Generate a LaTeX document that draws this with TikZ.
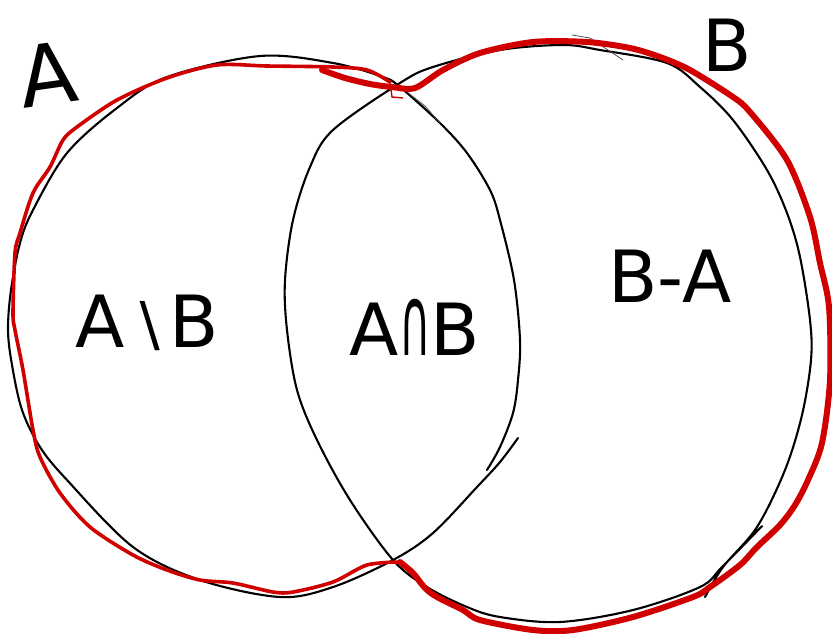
\documentclass[tikz,border=0pt]{standalone}
\usepackage{fontspec}
\usepackage{graphicx}
\setmainfont{DejaVu Sans}
\definecolor{penred}{RGB}{208,0,0}
\tikzset{
  ink/.style={black, line width=2.1pt, line cap=round, line join=round},
  thinink/.style={black!70, line width=0.8pt, line cap=round},
  redthin/.style={penred, line width=3.6pt, line cap=round, line join=round},
  redthick/.style={penred, line width=6pt, line cap=round, line join=round},
  lab/.style={inner sep=0pt, font=\fontsize{72}{80}\selectfont}
}
\begin{document}
\begin{tikzpicture}[x=1pt,y=-1pt]
\useasboundingbox (0,0) rectangle (832,633);
% black circle A
\draw[ink] plot[smooth, tension=0.55] coordinates {(487,470) (500,447) (513,413) (518,380) (520,340) (514,280) (500,220) (490,190) (467,153) (440,123) (400,87) (383,77) (333,63) (260,56) (167,77) (117,108) (67,153) (33,210) (20,243) (11,290) (8,330) (12,365) (22,410) (40,447) (67,480) (133,547) (200,580) (280,597) (333,587) (393,560) (433,533) (477,487) (500,462) (518,438)};
\draw[thinink] (407,92) -- (425,106) -- (440,123);
% black circle B
\draw[ink] plot[smooth, tension=0.55] coordinates {(705,597) (723,567) (757,527) (785,470) (802,415) (811,360) (810,320) (800,257) (787,213) (767,170) (733,120) (700,87) (667,63) (600,50) (563,45) (500,50) (433,67) (400,83) (333,130) (310,167) (293,220) (285,280) (287,330) (297,390) (317,440) (350,500) (393,560) (427,587) (467,607) (500,617) (560,622) (633,610) (700,587) (722,567) (762,526)};
\draw[thinink] (572,35) -- (590,38) -- (623,60);
% red outline of the union
\draw[redthin] plot[smooth, tension=0.5] coordinates {(400,562) (367,565) (333,582) (293,592) (273,592) (233,583) (200,580) (167,570) (133,555) (90,527) (60,493) (40,457) (33,430) (23,370) (15,330) (13,313) (15,253) (20,233) (33,193) (50,167) (63,140) (77,127) (117,100) (167,78) (217,65) (267,66) (333,67) (367,70) (390,82)};
\draw[penred, line width=1.4pt] (390,82) -- (392,97) -- (403,98);
\draw[redthick] plot[smooth, tension=0.5] coordinates {(322,70) (345,78) (370,84) (392,87) (415,88) (443,70) (480,53) (533,42) (587,42) (630,48) (660,57) (690,70) (733,97) (750,112) (787,160) (810,217) (820,263) (829,307) (830,380) (822,443) (808,480) (795,505) (780,525) (757,547) (740,565) (710,587) (693,597) (633,617) (573,630) (533,630) (480,620) (463,610) (437,597) (425,588) (413,573) (400,562)};
% labels
\node[lab, font=\fontsize{84}{90}\selectfont, rotate=8] (la) at (48,74) {A};
\node[lab] (lb) at (727,45) {B};
\node[lab] (diff) at (147,323) {A\hspace{4pt}{\fontsize{60}{60}\selectfont ∖}\hspace{2pt}B};
\node[lab] (inter) at (415,327) {A\scalebox{0.6}[1.35]{∩}B};
\node[lab] (bma) at (670,276) {B-A};
\end{tikzpicture}
\end{document}
